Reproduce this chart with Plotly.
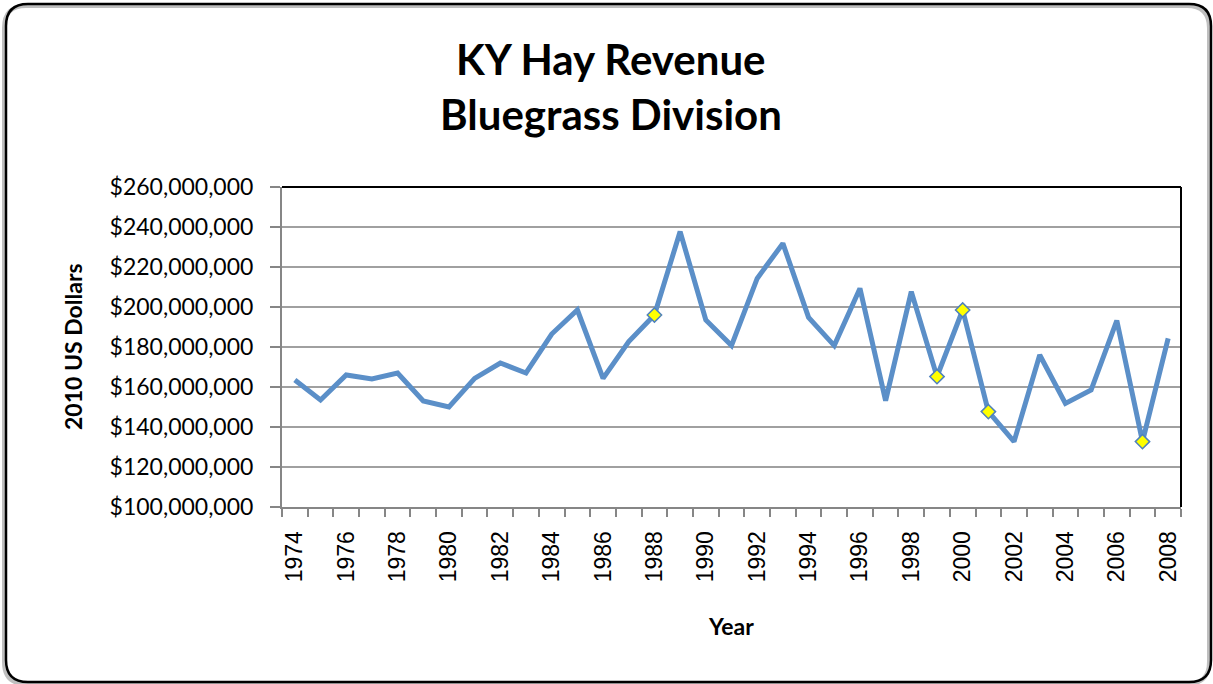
import plotly.graph_objects as go

# Annual hay revenue, Bluegrass Division (2010 US dollars)
years = list(range(1974, 2009))
revenue = [
    163.5e6, 153.5e6, 166.0e6, 164.0e6, 167.0e6, 153.0e6, 150.0e6, 164.3e6,
    172.0e6, 167.0e6, 186.5e6, 198.5e6, 164.3e6, 182.7e6, 196.0e6, 237.7e6,
    193.5e6, 180.7e6, 214.3e6, 231.8e6, 194.8e6, 180.7e6, 209.3e6, 153.2e6,
    207.7e6, 165.2e6, 198.5e6, 147.7e6, 132.7e6, 176.0e6, 151.8e6, 158.5e6,
    193.2e6, 132.7e6, 184.3e6,
]
# Years flagged with a marker
flagged_years = [1988, 1999, 2000, 2001, 2007]
flagged_revenue = [revenue[years.index(y)] for y in flagged_years]

label_years = list(range(1974, 2009, 2))
y_ticks = list(range(100_000_000, 260_000_001, 20_000_000))

W, H = 1213, 684
L, R, T, B = 282, 1181, 187, 507  # plot area edges in pixels


def px(x):
    return (x - L) / (R - L)


def py(y):
    return (B - y) / (B - T)


def rounded_rect(x0, y0, x1, y1, r):
    return (
        f"M {px(x0 + r)},{py(y0)} L {px(x1 - r)},{py(y0)} "
        f"Q {px(x1)},{py(y0)} {px(x1)},{py(y0 + r)} "
        f"L {px(x1)},{py(y1 - r)} "
        f"Q {px(x1)},{py(y1)} {px(x1 - r)},{py(y1)} "
        f"L {px(x0 + r)},{py(y1)} "
        f"Q {px(x0)},{py(y1)} {px(x0)},{py(y1 - r)} "
        f"L {px(x0)},{py(y0 + r)} "
        f"Q {px(x0)},{py(y0)} {px(x0 + r)},{py(y0)} Z"
    )


LINE_BLUE = "#5B8FC8"
GRID = "#A0A0A0"
AXIS = "#868686"
CAL = "Lato, 'Open Sans', sans-serif"

fig = go.Figure()
fig.add_trace(go.Scatter(
    x=years, y=revenue, mode="lines",
    line=dict(color=LINE_BLUE, width=5),
    hoverinfo="skip", showlegend=False,
))
fig.add_trace(go.Scatter(
    x=flagged_years, y=flagged_revenue, mode="markers",
    marker=dict(symbol="diamond", size=11, color="#FFFF00",
                line=dict(color="#4F81BD", width=1.5)),
    hoverinfo="skip", showlegend=False,
))

shapes = [
    # outer frame with soft shadow
    dict(type="path", xref="paper", yref="paper",
         path=rounded_rect(4, 6, 1209, 684, 22),
         line=dict(color="rgba(0,0,0,0.25)", width=4), layer="below"),
    dict(type="path", xref="paper", yref="paper",
         path=rounded_rect(6, 4, 1211, 682, 22),
         line=dict(color="black", width=2.5), layer="below"),
    # top and right plot-area border
    dict(type="line", xref="paper", yref="paper", x0=0, x1=1, y0=1, y1=1,
         line=dict(color="black", width=2), layer="above"),
    dict(type="line", xref="paper", yref="paper", x0=1, x1=1, y0=0, y1=1,
         line=dict(color="black", width=2), layer="above"),
]

annotations = [
    dict(text="<b>KY Hay Revenue</b>", x=px(611), y=py(59), xref="paper", yref="paper",
         showarrow=False, xanchor="center", yanchor="middle",
         font=dict(family=CAL, size=42, color="black")),
    dict(text="<b>Bluegrass Division</b>", x=px(611), y=py(114), xref="paper", yref="paper",
         showarrow=False, xanchor="center", yanchor="middle",
         font=dict(family=CAL, size=42, color="black")),
    dict(text="<b>Year</b>", x=px(731), y=py(626), xref="paper", yref="paper",
         showarrow=False, xanchor="center", yanchor="middle",
         font=dict(family=CAL, size=23, color="black")),
    dict(text="<b>2010 US Dollars</b>", x=px(73), y=py(347), xref="paper", yref="paper",
         showarrow=False, xanchor="center", yanchor="middle", textangle=-90,
         font=dict(family=CAL, size=23, color="black")),
]

fig.update_layout(
    width=W, height=H,
    margin=dict(l=L, r=W - R, t=T, b=H - B, pad=0),
    paper_bgcolor="white", plot_bgcolor="white",
    shapes=shapes, annotations=annotations,
    xaxis=dict(
        range=[1973.5, 2008.5], tickmode="array", tickvals=label_years,
        ticktext=[str(y) for y in label_years], tickangle=-90,
        ticks="", showgrid=False, zeroline=False,
        showline=True, linecolor=AXIS, linewidth=2,
        tickfont=dict(family="'Liberation Sans', Arial, sans-serif", size=23, color="black"),
        ticklabelstandoff=13,
        minor=dict(ticks="outside", tick0=1973.5, dtick=1, ticklen=8,
                   tickcolor=AXIS, tickwidth=1.5, showgrid=False),
    ),
    yaxis=dict(
        range=[100_000_000, 260_000_000], tickmode="array", tickvals=y_ticks,
        ticktext=[f"${v:,.0f}" for v in y_ticks],
        ticks="outside", ticklen=10, tickcolor=AXIS, tickwidth=1.5,
        showgrid=True, gridcolor=GRID, gridwidth=1.5, zeroline=False,
        showline=True, linecolor=AXIS, linewidth=2,
        tickfont=dict(family=CAL, size=23, color="black"),
        ticklabelstandoff=12,
    ),
)

fig.write_html("out.html")
